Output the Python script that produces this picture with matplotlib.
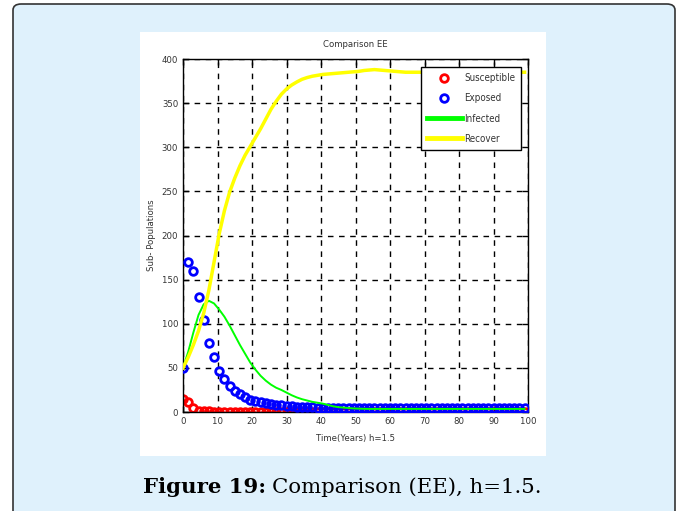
import numpy as np
import matplotlib
matplotlib.use("Agg")
import matplotlib.pyplot as plt
from matplotlib.patches import FancyBboxPatch, Rectangle

# ---- data (step h = 1.5) ----
h = 1.5
time = np.arange(0, 100, h)  # 0, 1.5, ..., 99

susceptible = [15, 11, 4, 1.5, 0.8, 0.6, 0.5, 0.5, 0.5, 0.5,
               0.5, 0.5, 0.5, 0.5, 0.5, 0.5, 0.5, 0.5, 0.5, 0.5,
               0.5, 0.5, 0.5, 0.5, 0.5, 0.5, 0.5, 0.5, 0.5, 0.5,
               0.5, 0.5, 0.5, 0.5, 0.5, 0.5, 0.5, 0.5, 0.5, 0.5,
               0.5, 0.5, 0.5, 0.5, 0.5, 0.5, 0.5, 0.5, 0.5, 0.5,
               0.5, 0.5, 0.5, 0.5, 0.5, 0.5, 0.5, 0.5, 0.5, 0.5,
               0.5, 0.5, 0.5, 0.5, 0.5, 0.5, 0.5]

exposed = [50, 170, 160, 130, 104, 78, 62, 47, 37, 29,
           24, 20, 17, 14, 12.5, 11, 10, 9, 8, 7.5,
           7, 6.5, 6, 5.7, 5.4, 5.2, 5, 4.8, 4.6, 4.5,
           4.4, 4.3, 4.2, 4.1, 4.0, 4.0, 4.0, 4.0, 4.0, 4.0,
           4.0, 4.0, 4.0, 4.0, 4.0, 4.0, 4.0, 4.0, 4.0, 4.0,
           4.0, 4.0, 4.0, 4.0, 4.0, 4.0, 4.0, 4.0, 4.0, 4.0,
           4.0, 4.0, 4.0, 4.0, 4.0, 4.0, 4.0]

infected = [50, 68, 90, 110, 122, 126, 123, 116, 108, 98,
            87, 76, 66, 56, 48, 41, 35.5, 31, 27.5, 25,
            22, 19, 16.5, 14.5, 13, 11.5, 10.5, 9.5, 8, 6.5,
            5.5, 5, 4.5, 4, 3.8, 3.6, 3.5, 3.5, 3.5, 3.5,
            3.5, 3.5, 3.5, 3.5, 3.5, 3.5, 3.5, 3.5, 3.5, 3.5,
            3.5, 3.5, 3.5, 3.5, 3.5, 3.5, 3.5, 3.5, 3.5, 3.5,
            3.5, 3.5, 3.5, 3.5, 3.5, 3.5, 3.5]

recover = [50, 62, 76, 92, 112, 138, 170, 202, 228, 249,
           265, 279, 291, 301, 311, 321, 332, 343, 352, 360,
           366, 370.5, 374, 377, 379, 380.5, 381.5, 382.5, 383, 383.5,
           384, 384.5, 385, 385.5, 386, 387, 387.5, 388, 387.5, 387,
           386.5, 386, 385.5, 385, 385, 385, 385, 385, 385, 385,
           385, 385, 385, 385, 385, 385, 385, 385, 385, 385,
           385, 385, 385, 385, 385, 385, 385]

xticks = [0, 10, 20, 30, 40, 50, 60, 70, 80, 90, 100]
yticks = [0, 50, 100, 150, 200, 250, 300, 350, 400]

W, H = 683, 511
fig = plt.figure(figsize=(W / 100, H / 100), dpi=100)
fig.patch.set_facecolor("white")

# outer light-blue panel with rounded border (bottom edge runs off the image)
panel = FancyBboxPatch((13 / W, -0.1), (675 - 13) / W, 1 - 4 / H + 0.1,
                       boxstyle="round,pad=0,rounding_size=0.012",
                       transform=fig.transFigure, facecolor="#dff1fc",
                       edgecolor="#333333", linewidth=1.2, zorder=-2)
fig.add_artist(panel)
# white chart area
fig.add_artist(Rectangle((140 / W, 1 - 456 / H), (546 - 140) / W, (456 - 32) / H,
                         transform=fig.transFigure, facecolor="white",
                         edgecolor="none", zorder=-1))

ax = fig.add_axes([183 / W, 1 - 412 / H, (528 - 183) / W, (412 - 59) / H])
ax.set_zorder(1)
ax.set_facecolor("white")

txt = dict(family=["DejaVu Sans"], fontstretch="condensed", color="#333333")

ax.plot(time, susceptible, "o", mfc="none", mec="#ff0000", mew=2.0, ms=5.5,
        label="Susceptible", zorder=2)
ax.plot(time, exposed, "o", mfc="none", mec="#0000ff", mew=2.0, ms=5.5,
        label="Exposed", zorder=3)
ax.plot(time, infected, "-", color="#00ff00", lw=1.4, label="Infected", zorder=4)
ax.plot(time, recover, "-", color="#ffff00", lw=2.5, label="Recover", zorder=5)

ax.set_xlim(0, 100)
ax.set_ylim(0, 400)
ax.set_xticks(xticks)
ax.set_yticks(yticks)
ax.grid(True, color="black", linestyle=(0, (4, 4)), linewidth=1.0)
ax.tick_params(direction="in", length=4, width=1, labelsize=6.8,
               labelcolor="#333333", top=True, right=True)
for lab in ax.get_xticklabels() + ax.get_yticklabels():
    lab.set_fontstretch("condensed")
for s in ax.spines.values():
    s.set_linewidth(1.0)
    s.set_color("black")

ax.set_title("Comparison EE", fontsize=6.8, pad=9, **txt)
ax.set_xlabel("Time(Years) h=1.5", fontsize=6.8, labelpad=6, **txt)
ax.set_ylabel("Sub- Populations", fontsize=6.8, labelpad=4, **txt)

leg = ax.legend(loc="upper right", bbox_to_anchor=(0.995, 0.99),
                fontsize=7, frameon=True, fancybox=False, framealpha=1,
                edgecolor="black", handlelength=3.6, borderpad=0.6,
                labelspacing=1.05, handletextpad=0.3, markerscale=1.0)
leg.get_frame().set_linewidth(1.0)
for t in leg.get_texts():
    t.set_fontstretch("condensed")
    t.set_color("#333333")
for lh in leg.get_lines():
    if lh.get_linestyle() == "-":
        lh.set_linewidth(3.5)

# caption: bold "Figure 19:" + regular rest, spanning x=143..543
cap_y = 1 - 487 / H
fs = 14
cap_bold = fig.text(143 / W, cap_y, "Figure 19:", ha="left", va="center",
                    fontsize=fs, fontweight="bold", family=["DejaVu Serif"],
                    color="black")
cap_rest = fig.text(0, cap_y, "Comparison (EE), h=1.5.", ha="left",
                    va="center", fontsize=fs, family=["DejaVu Serif"], color="black")
fig.canvas.draw()
r = fig.canvas.get_renderer()
wb = cap_bold.get_window_extent(r).width
wr = cap_rest.get_window_extent(r).width
scale = (543 - 143 - 6) / (wb + wr)
fs2 = fs * scale
cap_bold.set_fontsize(fs2)
cap_rest.set_fontsize(fs2)
fig.canvas.draw()
bb = cap_bold.get_window_extent(r)
cap_rest.set_x((bb.x1 + 6) / W)

fig.savefig("out.png", dpi=100)
